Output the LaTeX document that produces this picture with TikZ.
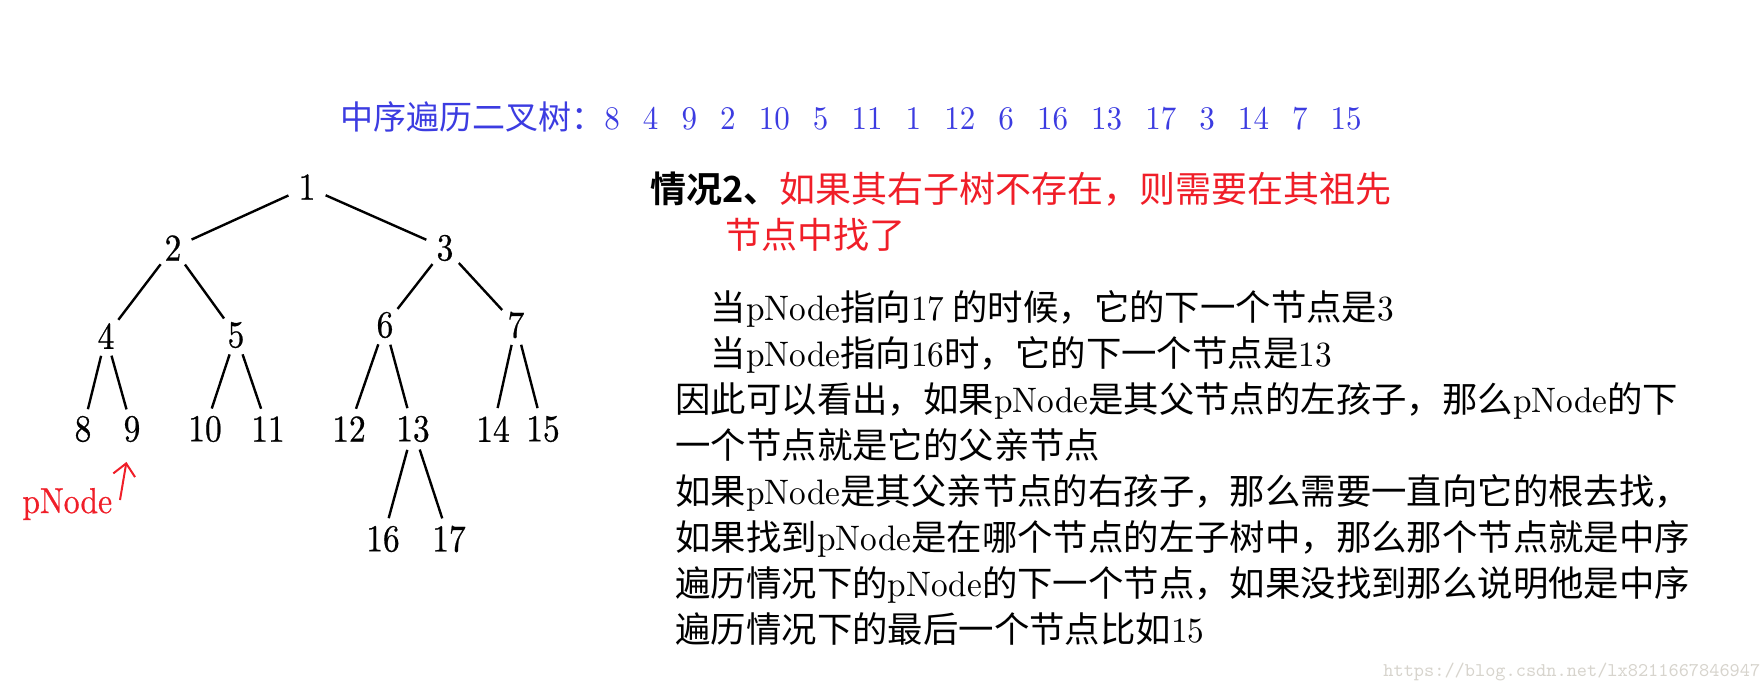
\documentclass[tikz,border=0pt]{standalone}
\usepackage{fontspec}
\newfontfamily\cjk{Noto Sans CJK SC}[BoldFont={Noto Sans CJK SC Bold}]
\newfontfamily\treefont{lmroman10-regular.otf}[FakeStretch=0.88,FakeBold=0.6]
\newfontfamily\latfont{lmroman10-regular.otf}[FakeStretch=0.94]
\usetikzlibrary{arrows.meta}
\definecolor{titleblue}{RGB}{60,60,225}
\definecolor{pred}{RGB}{240,30,40}
\definecolor{wmgray}{RGB}{215,212,205}
\newcommand\gap{\hspace{.7em}}
\newcommand\lat[1]{{\latfont #1}}

\begin{document}
\begin{tikzpicture}[x=0.5pt,y=-0.5pt,
  num/.style={circle,inner sep=0pt,minimum size=20pt,font=\treefont\fontsize{19}{19}\selectfont},
  branch/.style={line width=1.2pt},
  ptr/.style={pred,line width=1pt,-{Straight Barb[length=6pt,width=11pt]}},
  txt/.style={inner sep=0pt,align=left,font=\cjk\fontsize{18}{23}\selectfont}]
  \path[use as bounding box,fill=white] (0,0) rectangle (1764,693);
  % title
  \node[txt,anchor=west,text=titleblue,font=\cjk\fontsize{16.5}{18}\selectfont] (title) at (340,117)
    {中序遍历二叉树：\lat{8\gap 4\gap 9\gap 2\gap 10\gap 5\gap 11\gap 1\gap 12\gap 6\gap 16\gap 13\gap 17\gap 3\gap 14\gap 7\gap 15}};
  % tree
  \node[num] (n1) at (307,187) {1};
  \node[num] (n2) at (173,248) {2};
  \node[num] (n3) at (445,248) {3};
  \node[num] (n4) at (106,336) {4};
  \node[num] (n5) at (236,335) {5};
  \node[num] (n6) at (385,325) {6};
  \node[num] (n7) at (516,325) {7};
  \node[num] (n8) at (83,429) {8};
  \node[num] (n9) at (132,429) {9};
  \node[num] (n10) at (205,429) {10};
  \node[num] (n11) at (268,429) {11};
  \node[num] (n12) at (349,429) {12};
  \node[num] (n13) at (413,429) {13};
  \node[num] (n14) at (493,429) {14};
  \node[num] (n15) at (543,429) {15};
  \node[num] (n16) at (383,539) {16};
  \node[num] (n17) at (449,539) {17};
  \draw[branch] (n1) -- (n2);  \draw[branch] (n1) -- (n3);
  \draw[branch] (n2) -- (n4);  \draw[branch] (n2) -- (n5);
  \draw[branch] (n3) -- (n6);  \draw[branch] (n3) -- (n7);
  \draw[branch] (n4) -- (n8);  \draw[branch] (n4) -- (n9);
  \draw[branch] (n5) -- (n10); \draw[branch] (n5) -- (n11);
  \draw[branch] (n6) -- (n12); \draw[branch] (n6) -- (n13);
  \draw[branch] (n7) -- (n14); \draw[branch] (n7) -- (n15);
  \draw[branch] (n13) -- (n16); \draw[branch] (n13) -- (n17);
  % pointer
  \node[anchor=base west,inner sep=0pt,text=pred,font=\treefont\fontsize{18}{18}\selectfont] (pnode) at (22,513) {pNode};
  \coordinate (ptail) at (120,500);
  \draw[ptr,shorten >=6.5pt] (ptail) -- (n9);
  % explanation
  \node[txt,anchor=west] (case) at (650,189)
    {{\bfseries 情况2、}\textcolor{pred}{如果其右子树不存在，则需要在其祖先}};
  \node[txt,anchor=west,text=pred] (case2) at (725,235) {节点中找了};
  \node[txt,anchor=north west,font=\cjk\fontsize{17.7}{23}\selectfont] (body) at (675,290)
    {\hspace*{1em}当\lat{pNode}指向\lat{17} 的时候，它的下一个节点是\lat{3}\\
     \hspace*{1em}当\lat{pNode}指向\lat{16}时，它的下一个节点是\lat{13}\\
     因此可以看出，如果\lat{pNode}是其父节点的左孩子，那么\lat{pNode}的下\\
     一个节点就是它的父亲节点\\
     如果\lat{pNode}是其父亲节点的右孩子，那么需要一直向它的根去找，\\
     如果找到\lat{pNode}是在哪个节点的左子树中，那么那个节点就是中序\\
     遍历情况下的\lat{pNode}的下一个节点，如果没找到那么说明他是中序\\
     遍历情况下的最后一个节点比如\lat{15}};
  \node[anchor=west,inner sep=0pt,text=wmgray,font=\ttfamily\fontsize{9.7}{10}\selectfont] (mark) at (1383,672)
    {https://blog.csdn.net/lx8211667846947};
\end{tikzpicture}
\end{document}
